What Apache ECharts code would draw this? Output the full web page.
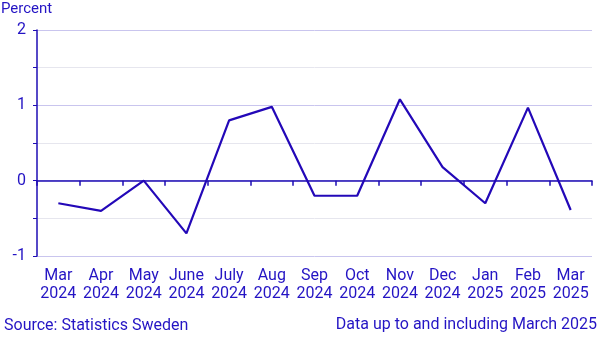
<!DOCTYPE html>
<html>
<head>
<meta charset="utf-8">
<script src="https://cdn.jsdelivr.net/npm/echarts@6/dist/echarts.min.js"></script>
<style>
  html, body { margin: 0; padding: 0; background: #fff; }
  #chart { width: 606px; height: 341px; }
</style>
</head>
<body>
<div id="chart"></div>
<script>
// Monthly change, percent
const categories = ['Mar\n2024', 'Apr\n2024', 'May\n2024', 'June\n2024', 'July\n2024', 'Aug\n2024',
  'Sep\n2024', 'Oct\n2024', 'Nov\n2024', 'Dec\n2024', 'Jan\n2025', 'Feb\n2025', 'Mar\n2025'];
const values = [-0.3, -0.4, 0.0, -0.7, 0.8, 0.98, -0.2, -0.2, 1.08, 0.18, -0.3, 0.97, -0.39];
const yTicks = [-1, 0, 1, 2];

const ink = '#2414c4';
const lineBlue = '#2308b8';
const axisBlue = '#1e0cb4';
const font = 'Roboto, "Liberation Sans", sans-serif';

const chart = echarts.init(document.getElementById('chart'), null, { renderer: 'canvas' });
chart.setOption({
  animation: false,
  backgroundColor: '#ffffff',
  textStyle: { fontFamily: font },
  grid: { left: 37, right: 14, top: 30, bottom: 85, containLabel: false },
  title: [
    { text: 'Percent', left: 1, top: 2, padding: 0,
      textStyle: { color: ink, fontSize: 15, fontWeight: 'normal', fontFamily: font } },
    { text: 'Source: Statistics Sweden', left: 4, top: 318, padding: 0,
      textStyle: { color: ink, fontSize: 16, fontWeight: 'normal', fontFamily: font } },
    { text: 'Data up to and including March 2025', right: 9, top: 317, padding: 0,
      textStyle: { color: ink, fontSize: 16, fontWeight: 'normal', fontFamily: font } }
  ],
  xAxis: [
    {
      // month labels along the bottom of the plot
      type: 'category', data: categories, position: 'bottom', boundaryGap: true,
      axisLine: { show: false, onZero: false }, axisTick: { show: false },
      axisLabel: { color: ink, fontSize: 16, lineHeight: 18, margin: 11, interval: 0, fontFamily: font },
      splitLine: { show: false }
    },
    {
      // baseline with ticks, drawn at zero
      type: 'category', data: categories, position: 'bottom', boundaryGap: true,
      axisLine: { show: true, onZero: true, lineStyle: { color: axisBlue, width: 1.5 } },
      axisTick: { show: true, length: 5, interval: 0, lineStyle: { color: axisBlue, width: 1.5 } },
      axisLabel: { show: false },
      splitLine: { show: false }
    }
  ],
  yAxis: {
    type: 'value', min: yTicks[0], max: yTicks[yTicks.length - 1], interval: 0.5,
    axisLine: { show: true, lineStyle: { color: axisBlue, width: 1.5 } },
    axisTick: { show: true, length: 4, lineStyle: { color: axisBlue, width: 1 } },
    axisLabel: {
      color: ink, fontSize: 16, margin: 11, fontFamily: font,
      formatter: v => (yTicks.indexOf(v) >= 0 ? String(v) : '')
    },
    splitLine: { show: true, lineStyle: { color: ['#c9c5ee', '#e6e6ee'], width: 1 } }
  },
  series: [{
    type: 'line', data: values, xAxisIndex: 0,
    symbol: 'none', smooth: false,
    lineStyle: { color: lineBlue, width: 2.2 },
    z: 5
  }]
});
</script>
</body>
</html>
